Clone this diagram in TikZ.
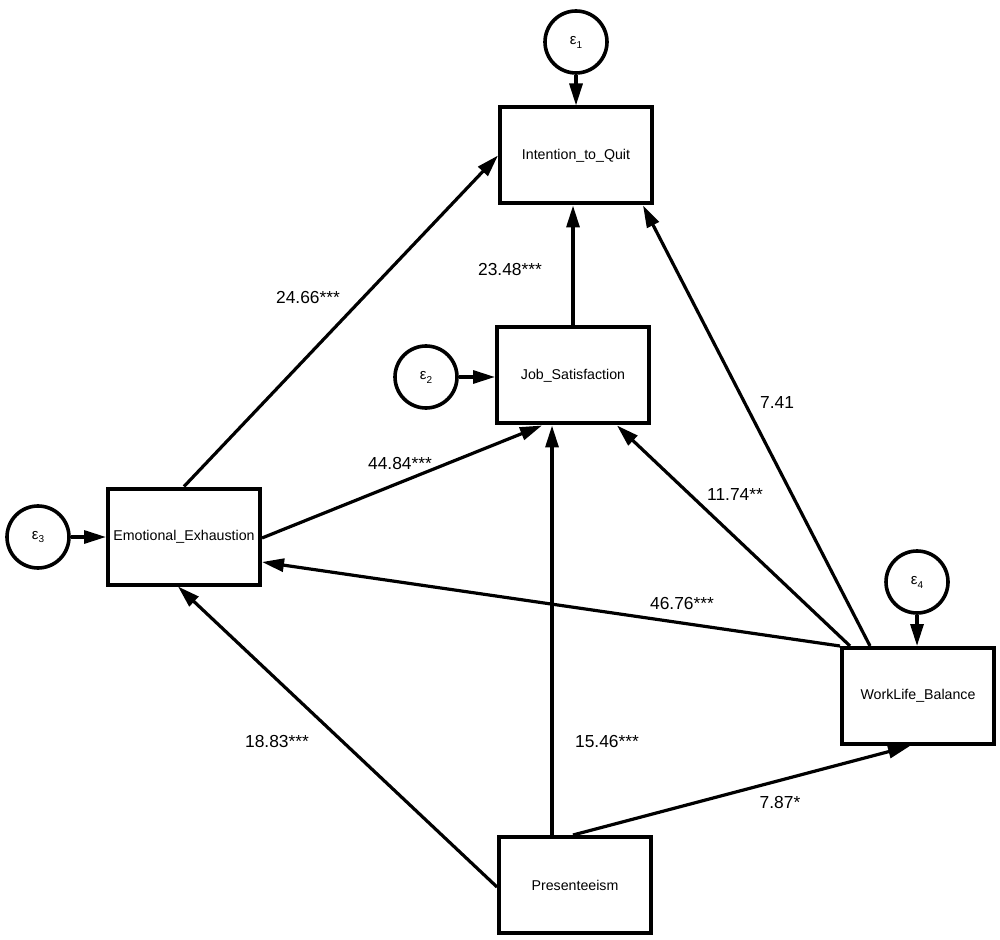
\documentclass[tikz,border=0pt]{standalone}
\usepackage{fontspec}
\setmainfont{Liberation Sans}
\usetikzlibrary{arrows.meta,calc}
\tikzset{
  var/.style={draw, line width=2pt, minimum width=76pt, minimum height=48pt, inner sep=0pt, font=\fontsize{7.1}{8}\selectfont},
  err/.style={draw, circle, line width=1.8pt, minimum size=31pt, inner sep=0pt, font=\fontsize{7.5}{8}\selectfont},
  path/.style={line width=1.6pt, -{Triangle[length=11pt,width=6.5pt]}},
  coef/.style={inner sep=0pt, font=\fontsize{8.7}{10}\selectfont}
}
\newcommand{\eps}[1]{ε\raisebox{-0.5ex}{\fontsize{5}{6}\selectfont #1}}
\begin{document}
\begin{tikzpicture}[x=0.5pt,y=-0.5pt]
\useasboundingbox (0,0) rectangle (1000,940);
% variables
\node[var] (iq) at (576,155.5) {Intention\_to\_Quit};
\node[var] (js) at (573,375.5) {Job\_Satisfaction};
\node[var] (ee) at (184,536.5) {Emotional\_Exhaustion};
\node[var] (wlb) at (918,696) {WorkLife\_Balance};
\node[var] (pres) at (575,885) {Presenteeism};
% errors
\node[err] (e1) at (576,42) {\eps{1}};
\node[err] (e2) at (426,377) {\eps{2}};
\node[err] (e3) at (38,537) {\eps{3}};
\node[err] (e4) at (917,582) {\eps{4}};
% error arrows
\draw[path] (e1.south) -- (e1.south |- iq.north);
\draw[path] (e2.east) -- (e2.east -| js.west);
\draw[path] (e3.east) -- (e3.east -| ee.west);
\draw[path] (e4.south) -- (e4.south |- wlb.north);
% structural paths
\draw[path] (ee.north) -- (iq.west);
\draw[path] (js.north) -- (js.north |- iq.south);
\draw[path] ($(wlb.north west)+(30,0)$) -- ($(iq.south east)+(-11,0)$);
\draw[path] ($(ee.east)+(0,1.5)$) -- ($(js.south)+(-31,0)$);
\draw[path] ($(wlb.north west)+(10,0)$) -- ($(js.south)+(44,0)$);
\draw[path] (wlb.north west) -- ($(ee.east)+(0,25.5)$);
\draw[path] ($(pres.west)+(0,2)$) -- ($(ee.south)+(-6,0)$);
\coordinate (pjs) at ($(pres.north)+(-23,0)$);
\draw[path] (pjs) -- (pjs |- js.south);
\draw[path] ($(pres.north)+(-2,0)$) -- ($(wlb.south)+(-8,0)$);
% coefficients
\node[coef] (c1) at (308,298) {24.66***};
\node[coef] (c2) at (510,270) {23.48***};
\node[coef] (c3) at (777,403) {7.41};
\node[coef] (c4) at (400,464) {44.84***};
\node[coef] (c5) at (735,495) {11.74**};
\node[coef] (c6) at (682,604) {46.76***};
\node[coef] (c7) at (277,742) {18.83***};
\node[coef] (c8) at (607,742) {15.46***};
\node[coef] (c9) at (780,803) {7.87*};
\end{tikzpicture}
\end{document}
